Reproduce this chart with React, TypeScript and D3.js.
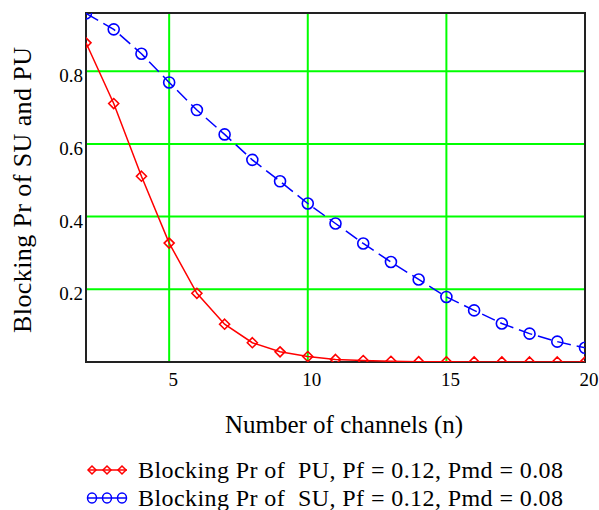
import React, { useEffect, useRef } from 'react';
import * as d3 from 'd3';

// Number of channels n
const channels = [2, 3, 4, 5, 6, 7, 8, 9, 10, 11, 12, 13, 14, 15, 16, 17, 18, 19, 20];
// Blocking probability of PU (red diamonds)
const puBlocking = [0.878, 0.711, 0.511, 0.327, 0.189, 0.104, 0.053, 0.028, 0.015, 0.007, 0.004, 0.002, 0.001, 0.0006, 0.0003, 0.0002, 0.0001, 0.0001, 0.0];
// Blocking probability of SU (blue circles)
const suBlocking = [0.959, 0.915, 0.848, 0.769, 0.693, 0.626, 0.556, 0.497, 0.436, 0.381, 0.326, 0.275, 0.227, 0.179, 0.142, 0.106, 0.078, 0.056, 0.039];

const xTicks = [5, 10, 15, 20];
const yTicks = [0.2, 0.4, 0.6, 0.8];

const legendLabels = [
  'Blocking Pr of  PU, Pf = 0.12, Pmd = 0.08',
  'Blocking Pr of  SU, Pf = 0.12, Pmd = 0.08',
];

const App = () => {
  const svgRef = useRef<SVGSVGElement>(null);

  useEffect(() => {
    const svg = d3.select(svgRef.current);
    svg.selectAll('*').remove();

    const width = 599;
    const height = 510;
    const margin = { top: 13, right: 14, bottom: 148, left: 86 };
    const innerW = width - margin.left - margin.right;
    const innerH = height - margin.top - margin.bottom;
    const font = '"Liberation Serif", "Times New Roman", serif';

    const x = d3.scaleLinear().domain([2, 20]).range([0, innerW]);
    const y = d3.scaleLinear().domain([0, 0.96]).range([innerH, 0]);

    svg.append('defs').append('clipPath').attr('id', 'plot-clip')
      .append('rect').attr('width', innerW).attr('height', innerH);

    const g = svg.append('g').attr('transform', `translate(${margin.left},${margin.top})`);

    // grid lines
    g.selectAll('.gx').data(xTicks.filter(t => t < 20)).join('line')
      .attr('x1', d => x(d)).attr('x2', d => x(d))
      .attr('y1', 0).attr('y2', innerH)
      .attr('stroke', '#00ff00').attr('stroke-width', 2);
    g.selectAll('.gy').data(yTicks).join('line')
      .attr('x1', 0).attr('x2', innerW)
      .attr('y1', d => y(d)).attr('y2', d => y(d))
      .attr('stroke', '#00ff00').attr('stroke-width', 2);

    // frame
    g.append('rect').attr('width', innerW).attr('height', innerH)
      .attr('fill', 'none').attr('stroke', '#222').attr('stroke-width', 2);

    // tick labels
    g.selectAll('.tx').data(xTicks).join('text')
      .attr('x', d => x(d) + 4).attr('y', innerH + 24)
      .attr('text-anchor', 'middle')
      .style('font-family', font).style('font-size', '19px').attr('fill', '#000')
      .text(d => d);
    g.selectAll('.ty').data(yTicks).join('text')
      .attr('x', -3).attr('y', d => y(d) + 11)
      .attr('text-anchor', 'end')
      .style('font-family', font).style('font-size', '19px').attr('fill', '#000')
      .text(d => d3.format('.1f')(d));

    const plot = g.append('g').attr('clip-path', 'url(#plot-clip)');

    const line = d3.line<number>()
      .x((_, i) => x(channels[i]))
      .y(d => y(d));

    // SU series
    plot.append('path').datum(suBlocking)
      .attr('fill', 'none').attr('stroke', '#0000ff').attr('stroke-width', 1.5)
      .attr('stroke-dasharray', '14,6')
      .attr('d', line);
    plot.selectAll('.su').data(suBlocking).join('circle')
      .attr('cx', (_, i) => x(channels[i])).attr('cy', d => y(d))
      .attr('r', 5.5).attr('fill', 'none').attr('stroke', '#0000ff').attr('stroke-width', 1.6);

    // PU series
    plot.append('path').datum(puBlocking)
      .attr('fill', 'none').attr('stroke', '#ff0000').attr('stroke-width', 1.5)
      .attr('d', line);
    const diamond = (cx: number, cy: number, s: number) =>
      `M${cx},${cy - s}L${cx + s},${cy}L${cx},${cy + s}L${cx - s},${cy}Z`;
    plot.selectAll('.pu').data(puBlocking).join('path')
      .attr('d', (d, i) => diamond(x(channels[i]), y(d), 5))
      .attr('fill', 'none').attr('stroke', '#ff0000').attr('stroke-width', 1.6);

    // axis titles
    svg.append('text')
      .attr('x', 344).attr('y', 433)
      .attr('text-anchor', 'middle')
      .style('font-family', font).style('font-size', '25px').attr('fill', '#000')
      .text('Number of channels (n)');
    svg.append('text')
      .attr('transform', `translate(31,190) rotate(-90)`)
      .attr('text-anchor', 'middle')
      .attr('textLength', 286).attr('lengthAdjust', 'spacing')
      .style('font-family', font).style('font-size', '26px').attr('fill', '#000')
      .text('Blocking Pr of SU and PU');

    // legend
    const colors = ['#ff0000', '#0000ff'];
    legendLabels.forEach((label, k) => {
      const ly = 470 + k * 28;
      const lg = svg.append('g');
      lg.append('line').attr('x1', 88).attr('x2', 127).attr('y1', ly).attr('y2', ly)
        .attr('stroke', colors[k]).attr('stroke-width', 1.5);
      [92, 107, 122].forEach(cx => {
        if (k === 0) {
          lg.append('path').attr('d', diamond(cx, ly, 4))
            .attr('fill', 'none').attr('stroke', colors[k]).attr('stroke-width', 1.5);
        } else {
          lg.append('ellipse').attr('cx', cx).attr('cy', ly).attr('rx', 4.5).attr('ry', 5)
            .attr('fill', 'none').attr('stroke', colors[k]).attr('stroke-width', 1.5);
        }
      });
      lg.append('text').attr('x', 138).attr('y', ly + 8)
        .attr('textLength', 425).attr('lengthAdjust', 'spacing')
        .style('font-family', font).style('font-size', '24px').attr('fill', '#000')
        .style('white-space', 'pre')
        .text(label);
    });
  }, []);

  return (
    <svg
      ref={svgRef}
      width={599}
      height={510}
      style={{ position: 'absolute', left: 0, top: 0, background: '#fff' }}
    />
  );
};

export default App;
